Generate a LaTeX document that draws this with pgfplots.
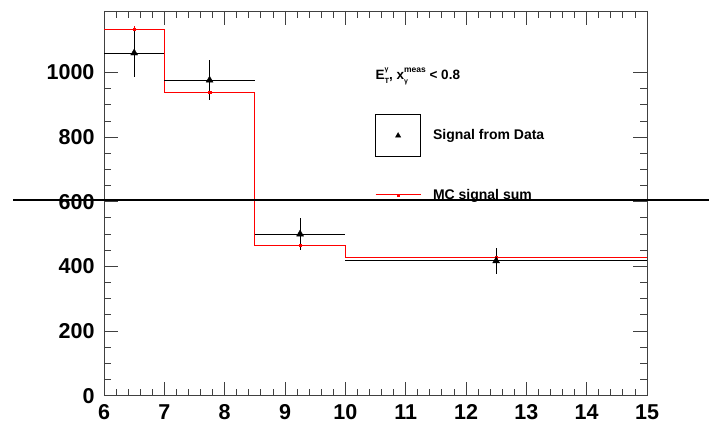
\documentclass[border=0pt]{standalone}
\usepackage{fontspec}
\setmainfont{Liberation Sans}
\usepackage{pgfplots}
\pgfplotsset{compat=1.18}
\begin{document}
\begin{tikzpicture}
\useasboundingbox (-104pt,-32.3pt) rectangle (605pt,395.7pt);
\begin{axis}[
  at={(0pt,0pt)}, anchor=south west,
  scale only axis, width=543pt, height=384.7pt,
  xmin=6, xmax=15, ymin=0, ymax=1190,
  xtick={6,...,15}, ytick={0,200,...,1000},
  minor x tick num=4, minor y tick num=3,
  tick align=inside, tick pos=both,
  major tick length=14pt, minor tick length=7pt,
  axis line style={black!75, line width=0.8pt},
  every tick/.style={black!75, line width=0.8pt},
  /pgf/number format/assume math mode=true,
  /pgf/number format/1000 sep={},
  ticklabel style={font=\fontsize{21.5}{21.5}\selectfont\bfseries},
  xticklabel style={yshift=-5pt},
  yticklabel style={xshift=-6pt},
  clip=false,
  legend style={draw=none, fill=none, at={(axis cs:10.492,871)}, anchor=north west,
    inner sep=0pt, row sep=30pt, column sep=10pt,
    font=\fontsize{14}{14}\selectfont\bfseries},
  legend cell align=left,
]
\addplot[red, line width=1pt, const plot mark left, no marks, forget plot]
  coordinates {(6,1134) (7,939) (8.5,466) (10,427) (15,427)};
\addplot[red, only marks, mark=square*, mark size=1.2pt, forget plot,
  error bars/.cd, y dir=both, y explicit, error mark=none,
  error bar style={red, line width=0.8pt}]
  coordinates {(6.5,1134) +- (0,10) (7.75,939) +- (0,10) (9.25,466) +- (0,8) (12.5,427) +- (0,6)};
\addplot[black, only marks, mark=triangle*, mark size=4pt, forget plot,
  error bars/.cd, x dir=both, x explicit, y dir=both, y explicit, error mark=none,
  error bar style={black, line width=0.8pt}]
  coordinates {(6.5,1060) +- (0.5,73) (7.75,976) +- (0.75,62) (9.25,500) +- (0.75,49) (12.5,417) +- (2.5,40)};
\addlegendimage{legend image code/.code={
  \draw[black, line width=0.6pt] (0pt,-21pt) rectangle (45pt,21pt);
  \draw[black, fill=black] plot[mark=triangle*, mark size=3pt] coordinates {(22.5pt,0pt)};}}
\addlegendentry{Signal from Data}
\addlegendimage{legend image code/.code={
  \draw[red, line width=0.8pt] (0pt,0pt) -- (45pt,0pt);
  \fill[red] (21.5pt,-1pt) rectangle (23.5pt,1pt);}}
\addlegendentry{MC signal sum}
\node[anchor=base west, font=\fontsize{13.5}{13.5}\selectfont\bfseries] at (axis cs:10.442,979)
  {E\rlap{\raisebox{7.5pt}{\fontsize{7}{7}\selectfont γ}}\raisebox{-4.5pt}{\fontsize{7.5}{7.5}\selectfont T}, x\rlap{\raisebox{-4.5pt}{\fontsize{7}{7}\selectfont γ}}\raisebox{7pt}{\fontsize{8.5}{8.5}\selectfont meas} {<} 0.8};
\coordinate (L1) at (axis cs:4.492,605);
\coordinate (L2) at (axis cs:16.028,605);
\end{axis}
\draw[black, line width=1.5pt] (L1) -- (L2);
\end{tikzpicture}
\end{document}
